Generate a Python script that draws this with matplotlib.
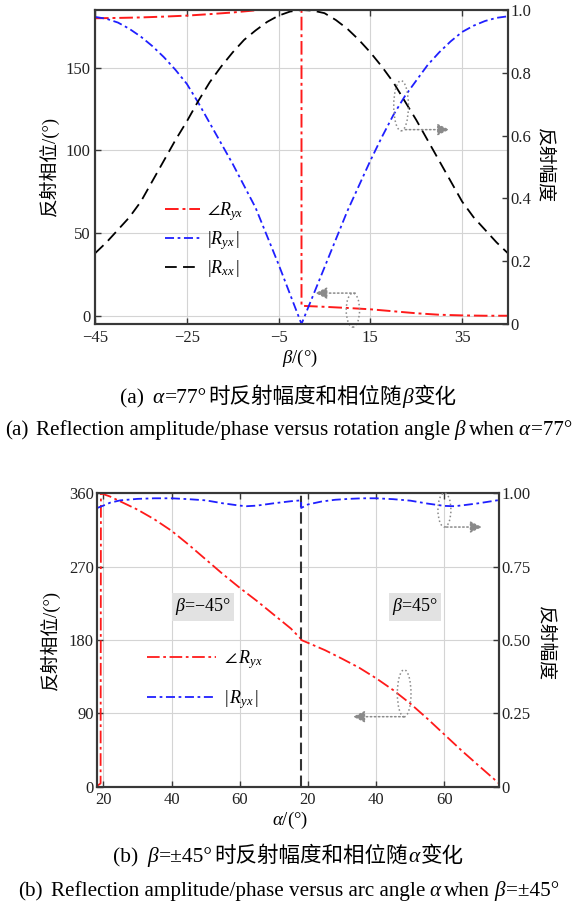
import matplotlib
matplotlib.use('Agg')
import matplotlib.pyplot as plt
from matplotlib.patches import Ellipse

plt.rcParams['font.family'] = ['Liberation Serif', 'Noto Sans CJK SC']
plt.rcParams['mathtext.fontset'] = 'custom'
plt.rcParams['mathtext.rm'] = 'Liberation Serif'
plt.rcParams['mathtext.it'] = 'Liberation Serif:italic'
plt.rcParams['mathtext.fallback'] = 'stix'

# ---- (a) alpha = 77 deg, sweep over rotation angle beta ----
beta = [-45, -42.5, -40, -37.5, -35, -32.5, -30, -27.5, -25, -22.5, -20, -17.5, -15,
        -12.5, -10, -7.5, -5, -2.5, 0, 2.5, 5, 7.5, 10, 12.5, 15, 17.5, 20, 22.5,
        25, 27.5, 30, 32.5, 35, 37.5, 40, 42.5, 45]
amp_yx_a = [0.978, 0.972, 0.96, 0.94, 0.915, 0.885, 0.85, 0.81, 0.765, 0.705, 0.64,
            0.575, 0.51, 0.44, 0.37, 0.28, 0.19, 0.095, 0.0, 0.09, 0.18, 0.27, 0.36,
            0.44, 0.52, 0.595, 0.665, 0.725, 0.775, 0.825, 0.865, 0.9, 0.93, 0.95,
            0.965, 0.975, 0.98]
amp_xx_a = [0.225, 0.26, 0.30, 0.34, 0.39, 0.455, 0.52, 0.585, 0.645, 0.71, 0.77,
            0.82, 0.865, 0.905, 0.935, 0.962, 0.982, 0.995, 1.0, 0.998, 0.99, 0.968,
            0.94, 0.905, 0.865, 0.82, 0.77, 0.71, 0.65, 0.585, 0.52, 0.455, 0.39,
            0.34, 0.30, 0.26, 0.225]
# phase jumps by 180 deg at beta = 0, so beta 0 appears twice
beta_phase = [-45, -40, -35, -30, -25, -20, -15, -10, -5, 0,
              0, 5, 10, 15, 20, 25, 30, 35, 40, 45]
phase_yx_a = [180, 180.2, 180.5, 181, 181.6, 182.5, 183.5, 184.8, 186.5, 188,
              6.0, 5.4, 4.7, 3.9, 2.7, 1.5, 0.6, 0.2, 0, 0]
beta_ticks = [-45, -25, -5, 15, 35]
phase_ticks_a = [0, 50, 100, 150]
amp_ticks_a = [0, 0.2, 0.4, 0.6, 0.8, 1.0]
amp_labels_a = ['0', '0.2', '0.4', '0.6', '0.8', '1.0']

# ---- (b) beta = -45 / +45 deg, sweep over arc angle alpha ----
alpha_neg = [18, 19.2, 19.3, 20, 22, 25, 30, 35, 40, 45, 50, 55, 60, 65, 70, 75, 78]
phase_neg = [0.5, 4, 360, 359, 356, 350, 340, 328, 314, 297, 279, 261, 244, 228, 211, 194, 181]
alpha_pos = [18, 20, 25, 30, 35, 40, 45, 50, 55, 60, 65, 70, 76]
phase_pos = [180, 176.5, 167.5, 157, 146, 133, 118.5, 102, 83.5, 64, 44.5, 26, 4]
amp_alpha_neg = [18, 20, 22, 25, 30, 35, 40, 45, 50, 55, 60, 62, 65, 70, 75, 78]
amp_neg = [0.949, 0.958, 0.968, 0.976, 0.981, 0.983, 0.983, 0.98, 0.976, 0.966,
           0.958, 0.956, 0.958, 0.966, 0.973, 0.976]
amp_alpha_pos = [18, 20, 24, 28, 32, 36, 40, 45, 50, 55, 60, 63, 66, 70, 76]
amp_pos = [0.950, 0.962, 0.972, 0.978, 0.981, 0.983, 0.983, 0.98, 0.975, 0.965,
           0.957, 0.956, 0.96, 0.966, 0.977]
alpha_ticks = [20, 40, 60]
phase_ticks_b = [0, 90, 180, 270, 360]
amp_ticks_b = [0, 0.25, 0.5, 0.75, 1.0]
amp_labels_b = ['0', '0.25', '0.50', '0.75', '1.00']

ALPHA0 = 18    # first alpha of each half
HALF = 60      # width of one half on the shared axis


def alpha_pos_on_axis(alphas, half):
    # the two beta cases share one x axis, laid side by side
    return [a - ALPHA0 + half * HALF for a in alphas]


W, H = 577, 905
fig = plt.figure(figsize=(W / 100, H / 100), dpi=100)

RED = '#ff1a1a'
BLUE = '#1f1fff'
GRID = '#d4d4d4'
SPINE = '#383838'
ANNO = '#8a8a8a'
red_dashes = (7, 2, 1.5, 2)
blue_dashes = (5, 2, 1.5, 2)


def style_axes(ax):
    for s in ax.spines.values():
        s.set_color(SPINE)
        s.set_linewidth(1.5)
    ax.tick_params(direction='in', length=4, width=1, labelsize=12, colors=SPINE,
                   labelcolor='#222222')


def ellipse_arrow(ax, center, w, h, tail, head):
    ax.add_patch(Ellipse(center, w, h, fill=False, ls=':', lw=1.1, ec=ANNO,
                         clip_on=False, zorder=5))
    ax.annotate('', xy=head, xytext=tail, annotation_clip=False,
                arrowprops=dict(arrowstyle='-|>,head_length=0.7,head_width=0.35',
                                color=ANNO, ls=':', lw=1.1, shrinkA=0, shrinkB=0))


def px_axes(left, top, right, bottom):
    return fig.add_axes([left / W, 1 - bottom / H, (right - left) / W, (bottom - top) / H])


# ================= (a) =================
ax1 = px_axes(95, 10, 508, 324)
ax1r = ax1.twinx()
for ax in (ax1, ax1r):
    style_axes(ax)

l_phase, = ax1.plot(beta_phase, phase_yx_a, color=RED, lw=1.4, dashes=red_dashes)
l_yx, = ax1r.plot(beta, amp_yx_a, color=BLUE, lw=1.3, dashes=blue_dashes)
l_xx, = ax1r.plot(beta, amp_xx_a, color='black', lw=1.3, dashes=(6.5, 3.5))

ax1.set_xlim(-45, 45)
ax1.set_ylim(-5, 185)
ax1r.set_ylim(0, 1.0)
ax1.set_xticks(beta_ticks)
ax1.set_yticks(phase_ticks_a)
ax1r.set_yticks(amp_ticks_a, amp_labels_a)
ax1.grid(True, color=GRID, lw=0.8)
ax1.set_axisbelow(True)
ax1.tick_params(axis='x', top=True, pad=4)
ax1.tick_params(axis='y', pad=3)
ax1r.tick_params(axis='y', pad=2)

ax1r.legend([l_phase, l_yx, l_xx],
            [r'$\angle R_{yx}$', r'$|R_{yx}\,|$', r'$|R_{xx}\,|$'],
            loc='upper left', bbox_to_anchor=(165 / W, 1 - 200 / H),
            bbox_transform=fig.transFigure, frameon=False, fontsize=13,
            handlelength=1.95, handletextpad=0.4, labelspacing=0.35,
            borderpad=0, borderaxespad=0)

ellipse_arrow(ax1r, (21.7, 0.695), 3.2, 0.16, (22.6, 0.619), (32.2, 0.619))
ellipse_arrow(ax1, (11.2, 3.4), 2.9, 20.6, (11.7, 13.7), (3.0, 13.7))

fig.text(49 / W, 1 - 166 / H, '反射相位/(°)', rotation=90, ha='center', va='center', fontsize=13.5)
fig.text(544 / W, 1 - 166 / H, '反射幅度', rotation=270, ha='center', va='center', fontsize=13.5)
fig.text(300 / W, 1 - 358 / H, r'$\beta$/(°)', ha='center', va='center', fontsize=13.5)

# ================= (b) =================
ax2 = px_axes(96.5, 493.3, 499, 786.7)
ax2r = ax2.twinx()
for ax in (ax2, ax2r):
    style_axes(ax)

x_phase = alpha_pos_on_axis(alpha_neg, 0) + alpha_pos_on_axis(alpha_pos, 1)
x_amp = alpha_pos_on_axis(amp_alpha_neg, 0) + alpha_pos_on_axis(amp_alpha_pos, 1)
m_phase, = ax2.plot(x_phase, phase_neg + phase_pos, color=RED, lw=1.3, dashes=red_dashes)
m_amp, = ax2r.plot(x_amp, amp_neg + amp_pos, color=BLUE, lw=1.3, dashes=blue_dashes)
ax2.axvline(HALF, color='#333333', lw=1.5, dashes=(5.5, 2.4), zorder=3)

ax2.set_xlim(0, 2 * HALF - 2)
ax2.set_ylim(0, 360)
ax2r.set_ylim(0, 1.0)
tick_x = alpha_pos_on_axis(alpha_ticks, 0) + alpha_pos_on_axis(alpha_ticks, 1)
ax2.set_xticks(tick_x, [str(a) for a in alpha_ticks] * 2)
ax2.set_yticks(phase_ticks_b)
ax2r.set_yticks(amp_ticks_b, amp_labels_b)
ax2.grid(True, color=GRID, lw=0.8)
ax2.set_axisbelow(True)
ax2.tick_params(axis='x', top=True, pad=4)
ax2.tick_params(axis='y', pad=2)
ax2r.tick_params(axis='y', pad=2)

ax2r.legend([m_phase, m_amp], [r'$\angle\, R_{yx}$', r'$|\,R_{yx}\,|$'],
            loc='upper left', bbox_to_anchor=(147 / W, 1 - 648 / H),
            bbox_transform=fig.transFigure, frameon=False, fontsize=13,
            handlelength=3.8, handletextpad=0.45, labelspacing=0.95,
            borderpad=0, borderaxespad=0)

box = dict(facecolor='#e2e2e2', edgecolor='none', pad=2.5)
ax2.text(31.2, 220.5, r'$\beta$=−45°', ha='center', va='center', fontsize=13, bbox=box)
ax2.text(93.4, 220.5, r'$\beta$=45°', ha='center', va='center', fontsize=13, bbox=box)

ellipse_arrow(ax2r, (102, 0.943), 3.8, 0.116, (102.6, 0.885), (113, 0.885))
ellipse_arrow(ax2, (90.2, 114.6), 4.0, 57.7, (90.2, 85.9), (75.2, 85.9))

fig.text(50 / W, 1 - 640 / H, '反射相位/(°)', rotation=90, ha='center', va='center', fontsize=13.5)
fig.text(545 / W, 1 - 643 / H, '反射幅度', rotation=270, ha='center', va='center', fontsize=13.5)
fig.text(290 / W, 1 - 820 / H, r'$\alpha$/(°)', ha='center', va='center', fontsize=13.5)

# ================= captions =================
serif = dict(family='Liberation Serif')
serif_it = dict(family='Liberation Serif', style='italic')
cjk = dict(family='Noto Sans CJK SC')


def caption(y_px, parts, size):
    # mixed-font line, pieces laid left to right and centred on the figure
    renderer = fig.canvas.get_renderer()
    texts = []
    for s, props, gap in parts:
        t = fig.text(0, 1 - y_px / H, s, fontsize=size, va='baseline', ha='left', **props)
        texts.append((t, gap, t.get_window_extent(renderer).width))
    total = sum(g + w for _, g, w in texts)
    x = (W - total) / 2
    for t, gap, w in texts:
        x += gap
        t.set_x(x / W)
        x += w


caption(403, [('(a)', serif, 0), ('α', serif_it, 9), ('=77°', serif, 1),
              ('时反射幅度和相位随', cjk, 1), ('β', serif_it, 1), ('变化', cjk, 1)], 15.5)
caption(435, [('(a)', serif, 0), ('Reflection amplitude/phase versus rotation angle', serif, 8),
              ('β', serif_it, 4), ('when', serif, 4), ('α', serif_it, 4), ('=77°', serif, 1)], 15.2)
caption(862, [('(b)', serif, 0), ('β', serif_it, 9), ('=±45°', serif, 1),
              ('时反射幅度和相位随', cjk, 1), ('α', serif_it, 1), ('变化', cjk, 1)], 15.5)
caption(896, [('(b)', serif, 0), ('Reflection amplitude/phase versus arc angle', serif, 8),
              ('α', serif_it, 4), ('when', serif, 4), ('β', serif_it, 4), ('=±45°', serif, 1)], 15.2)

fig.savefig('out.png', dpi=100)
